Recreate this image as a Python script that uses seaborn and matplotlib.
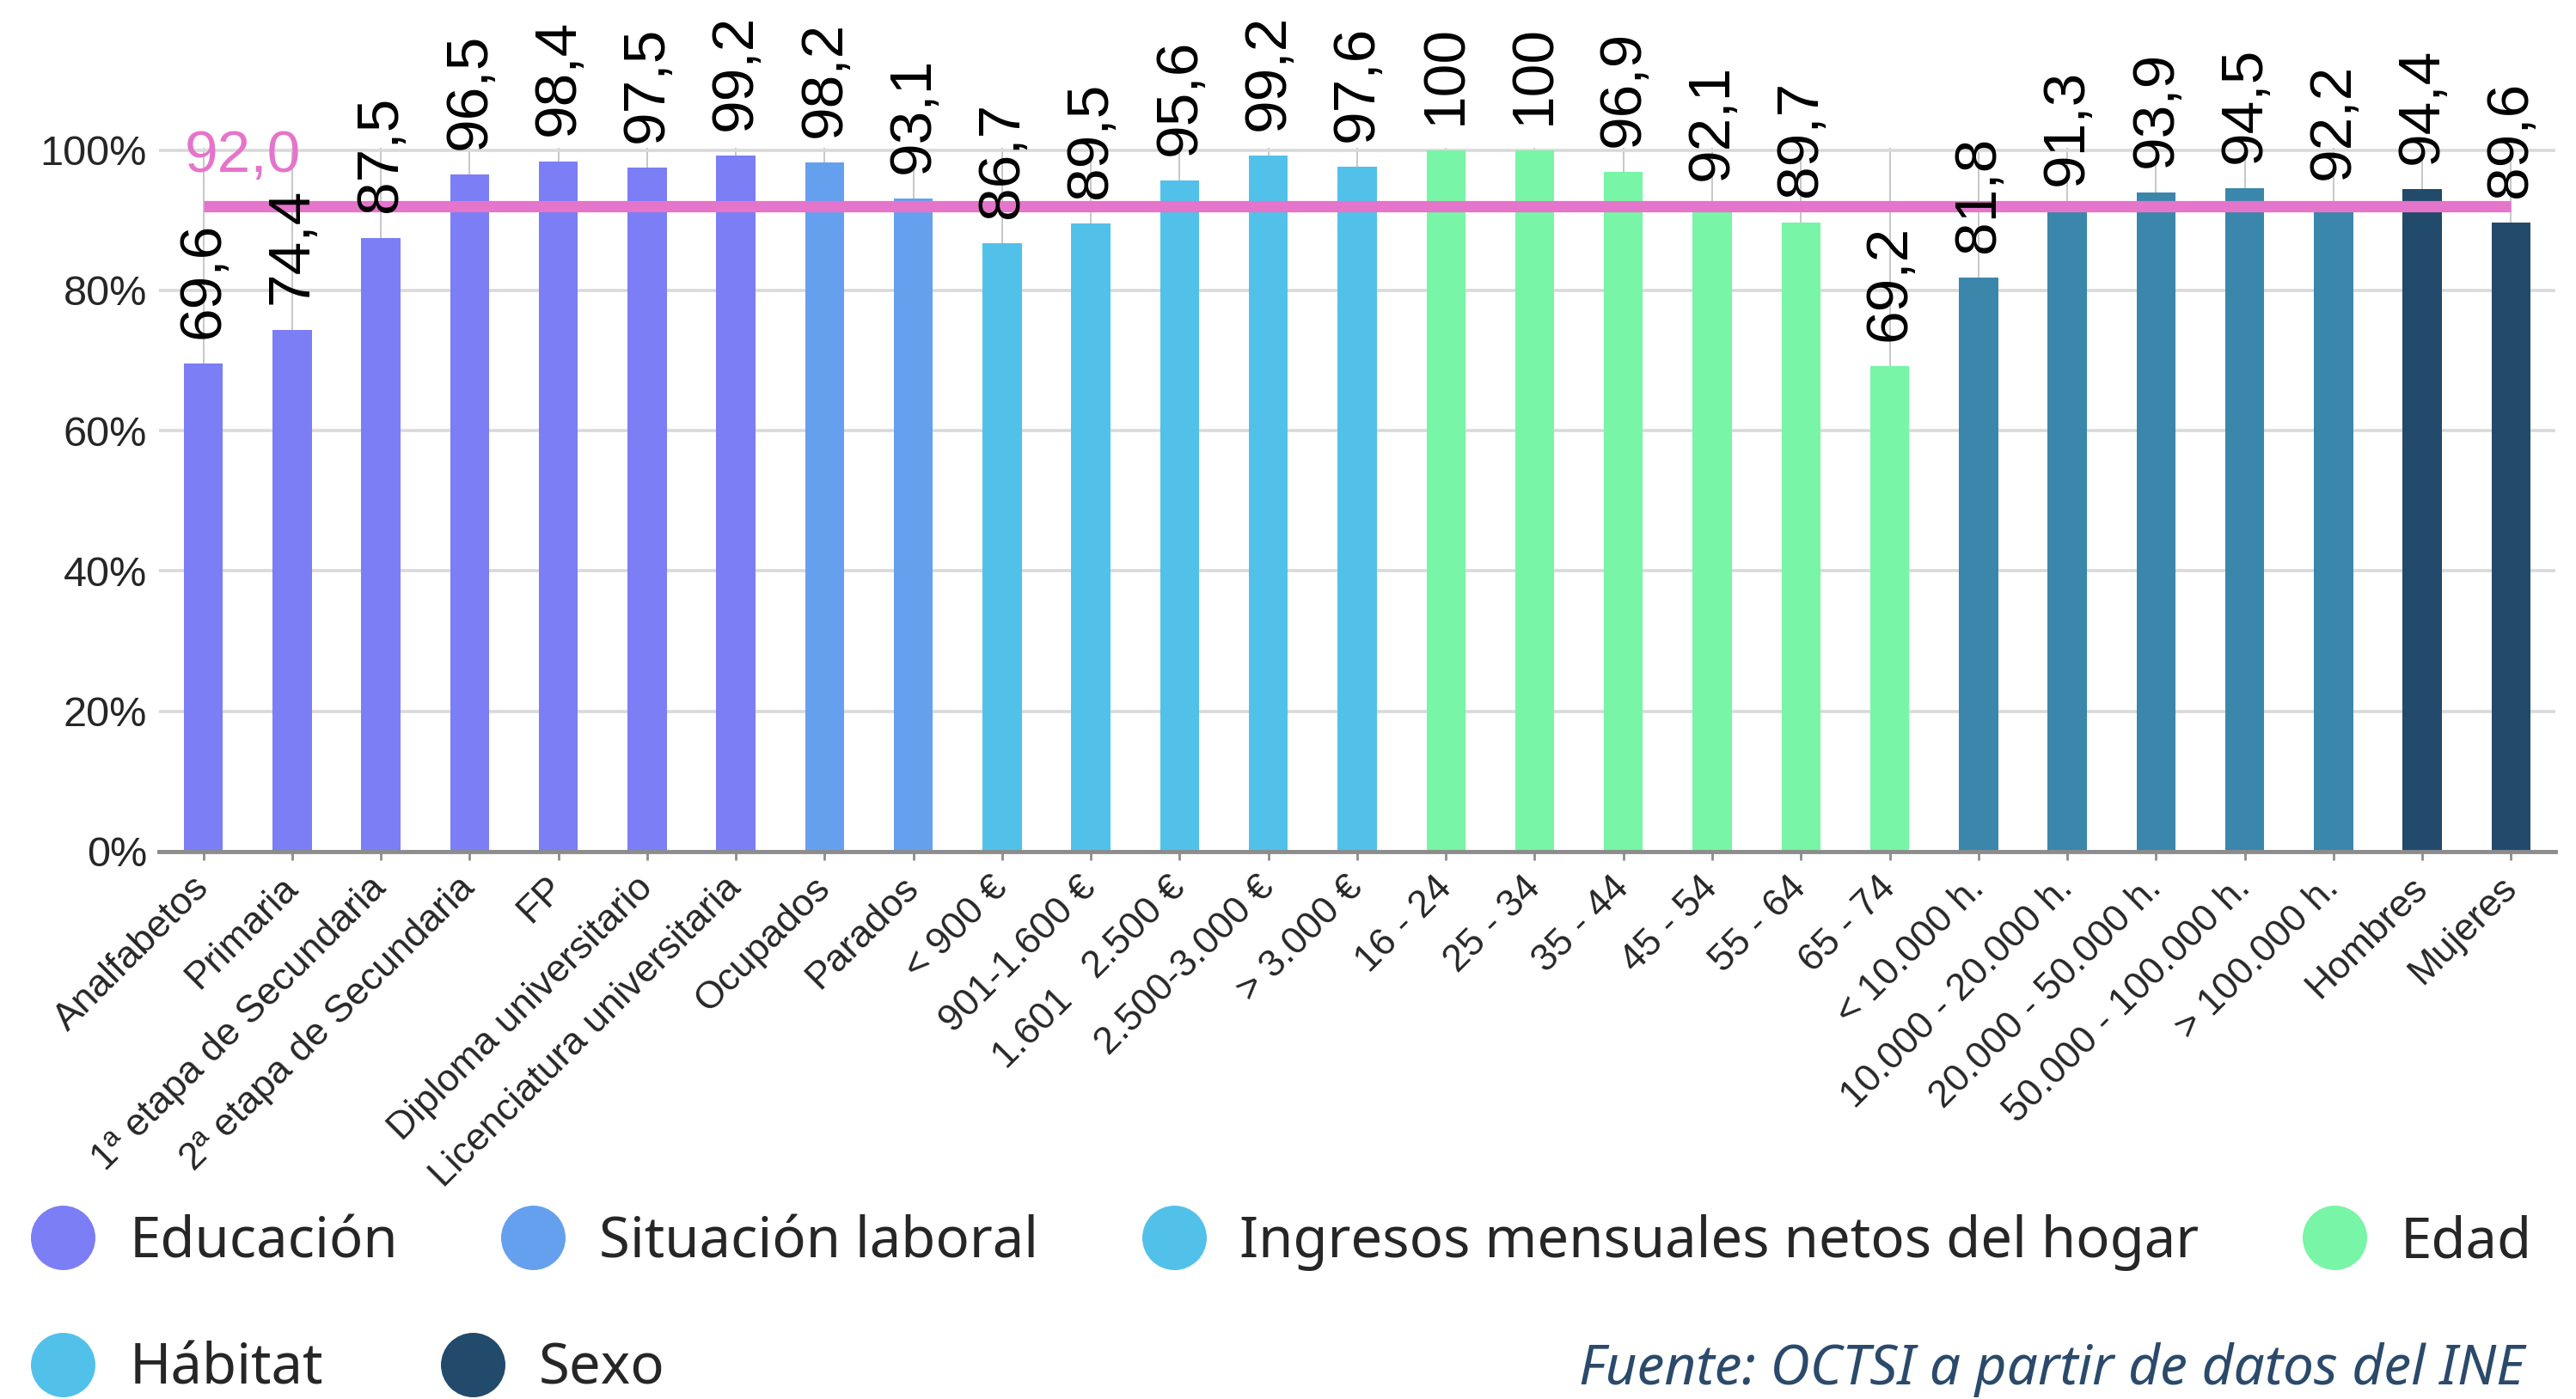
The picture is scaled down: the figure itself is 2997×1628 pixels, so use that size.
import matplotlib
matplotlib.use("Agg")
import matplotlib.pyplot as plt
from matplotlib.lines import Line2D
import pandas as pd
import seaborn as sns

CATEGORIES = [
    "Analfabetos", "Primaria", "1ª etapa de Secundaria", "2ª etapa de Secundaria",
    "FP", "Diploma universitario", "Licenciatura universitaria",
    "Ocupados", "Parados",
    "< 900 €", "901-1.600 €", "1.601   2.500 €", "2.500-3.000 €", "> 3.000 €",
    "16 - 24", "25 - 34", "35 - 44", "45 - 54", "55 - 64", "65 - 74",
    "< 10.000 h.", "10.000 - 20.000 h.", "20.000 - 50.000 h.",
    "50.000 - 100.000 h.", "> 100.000 h.",
    "Hombres", "Mujeres",
]
VALUES = [
    69.6, 74.4, 87.5, 96.5, 98.4, 97.5, 99.2,
    98.2, 93.1,
    86.7, 89.5, 95.6, 99.2, 97.6,
    100.0, 100.0, 96.9, 92.1, 89.7, 69.2,
    81.8, 91.3, 93.9, 94.5, 92.2,
    94.4, 89.6,
]
GROUP_NAMES = [
    "Educación", "Situación laboral", "Ingresos mensuales netos del hogar",
    "Edad", "Hábitat", "Sexo",
]
GROUPS = (
    ["Educación"] * 7
    + ["Situación laboral"] * 2
    + ["Ingresos mensuales netos del hogar"] * 5
    + ["Edad"] * 6
    + ["Hábitat"] * 5
    + ["Sexo"] * 2
)
BAR_COLORS = {
    "Educación": "#7b7ef4",
    "Situación laboral": "#65a0ef",
    "Ingresos mensuales netos del hogar": "#52c1e9",
    "Edad": "#78f5a6",
    "Hábitat": "#3b86ab",
    "Sexo": "#224a6b",
}
# the legend of the original shows Hábitat in the light blue
LEGEND_COLORS = {
    "Educación": "#7b7ef4",
    "Situación laboral": "#65a0ef",
    "Ingresos mensuales netos del hogar": "#52c1e9",
    "Edad": "#78f5a6",
    "Hábitat": "#52c1e9",
    "Sexo": "#224a6b",
}
AVERAGE = 92.0
Y_TICKS = [0, 20, 40, 60, 80, 100]
SOURCE = "Fuente: OCTSI a partir de datos del INE"

PINK = "#e574cb"
GRAY = "#8c8c8c"


def fmt(v: float) -> str:
    if v >= 100 and v == int(v):
        return f"{int(v)}"
    return f"{v:.1f}".replace(".", ",")


def main() -> None:
    sns.set_theme(style="white")
    plt.rcParams["font.family"] = ["Liberation Sans", "DejaVu Sans"]

    df = pd.DataFrame({"categoria": CATEGORIES, "valor": VALUES, "grupo": GROUPS})

    fig = plt.figure(figsize=(29.97, 16.28), dpi=100)
    ax = fig.add_axes([0.0617, 0.3913, 0.9303, 0.503])

    sns.barplot(
        data=df,
        x="categoria",
        y="valor",
        hue="grupo",
        order=CATEGORIES,
        hue_order=GROUP_NAMES,
        palette=BAR_COLORS,
        saturation=1,
        dodge=False,
        width=0.44,
        linewidth=0,
        legend=False,
        zorder=2,
        ax=ax,
    )

    n = len(CATEGORIES)
    ax.set_xlim(-0.5, n - 0.5)
    ax.set_ylim(0, 100.3)
    ax.set_xlabel("")
    ax.set_ylabel("")

    ax.set_axisbelow(True)
    ax.yaxis.grid(True, color="#d9d9d9", linewidth=2.6)
    ax.xaxis.grid(True, color="#bdbdbd", linewidth=1.2)

    ax.set_yticks(Y_TICKS)
    ax.set_yticklabels([f"{t}%" for t in Y_TICKS])
    ax.tick_params(axis="y", length=0, pad=10, labelsize=35)

    ax.set_xticks(range(n))
    ax.set_xticklabels(CATEGORIES, rotation=45, ha="right", va="center",
                       rotation_mode="anchor", fontsize=32)
    ax.tick_params(axis="x", length=7, width=2, color=GRAY, pad=19, bottom=True)

    for side in ("left", "top", "right"):
        ax.spines[side].set_visible(False)
    ax.spines["bottom"].set_color(GRAY)
    ax.spines["bottom"].set_linewidth(3.5)

    # media
    ax.hlines(AVERAGE, 0, n - 1, colors=PINK, linewidth=9.5, zorder=4,
              capstyle="butt")
    ax.annotate(fmt(AVERAGE), xy=(0, AVERAGE), xytext=(-16, 29),
                textcoords="offset points", ha="left", va="baseline",
                color=PINK, fontsize=50, zorder=6, annotation_clip=False)

    for i, v in enumerate(VALUES):
        ax.annotate(fmt(v), xy=(i, v), xytext=(0, 21), textcoords="offset points",
                    rotation=90, ha="center", va="bottom", fontsize=50,
                    color="black", zorder=6, annotation_clip=False)

    def handle(name):
        return Line2D([], [], marker="o", linestyle="", markersize=54,
                      markerfacecolor=LEGEND_COLORS[name], markeredgewidth=0)

    legend_font = {"family": ["Noto Sans", "DejaVu Sans"], "size": 47}
    row1 = GROUP_NAMES[:4]
    fig.legend(
        [handle(g) for g in row1], row1,
        loc="center", bbox_to_anchor=(0.012, 0.0867, 0.971, 0.05),
        mode="expand", ncol=4, frameon=False, prop=legend_font,
        handlelength=1.15, handletextpad=0.6, borderpad=0, borderaxespad=0,
    )
    row2 = GROUP_NAMES[4:]
    fig.legend(
        [handle(g) for g in row2], row2,
        loc="center left", bbox_to_anchor=(0.012, 0.021),
        ncol=2, frameon=False, prop=legend_font, columnspacing=2.1,
        handlelength=1.15, handletextpad=0.6, borderpad=0, borderaxespad=0,
    )

    fig.text(0.98, 0.021, SOURCE, ha="right", va="center", style="italic",
             color="#2b4a6b", fontsize=46, family=["Noto Sans", "DejaVu Sans"])

    fig.savefig("out.png", dpi=100)
    plt.close(fig)


if __name__ == "__main__":
    main()
